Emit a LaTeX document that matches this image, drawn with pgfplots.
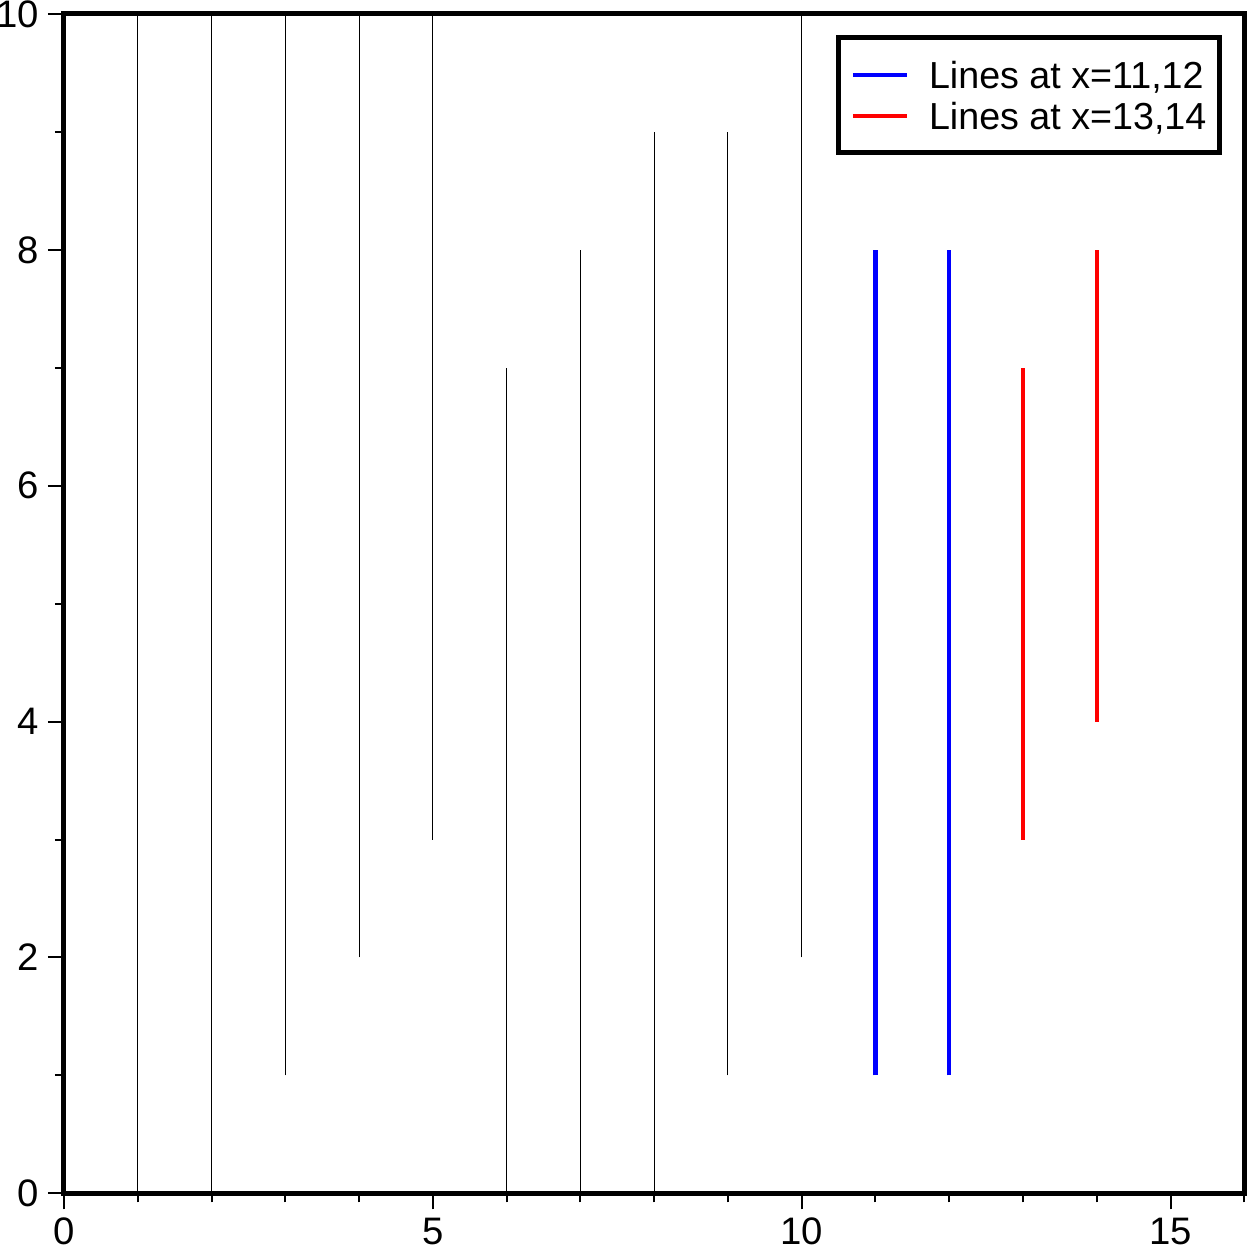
\documentclass[border=0pt]{standalone}
\usepackage{pgfplots}
\pgfplotsset{compat=1.18}
\usepackage{fontspec}
\setmainfont{Liberation Sans}
\begin{document}
\begin{tikzpicture}
\begin{axis}[
  scale only axis,
  width=354.3pt, height=354pt,
  xmin=0, xmax=16, ymin=0, ymax=10,
  xtick={0,5,10,15}, minor xtick={0,1,...,16},
  ytick={0,2,4,6,8,10}, minor ytick={1,3,5,7,9},
  xtick pos=bottom, ytick pos=left,
  tick align=outside,
  major tick length=4.8pt, minor tick length=2.7pt,
  tick style={line width=0.6pt, black},
  axis line style={line width=1.5pt},
  ticklabel style={font=\fontsize{11.5}{13}\selectfont},
  yticklabel style={inner xsep=0pt, xshift=-2.6pt},
  xticklabel style={inner ysep=0pt, text depth=0pt, yshift=-2.4pt},
  /pgf/number format/assume math mode=true,
  legend cell align=left,
  legend style={at={(axis description cs:0.9807,0.9818)}, anchor=north east,
    draw=black, line width=1.5pt, font=\fontsize{11.3}{12}\selectfont,
    inner xsep=3.8pt, inner ysep=4.95pt, row sep=0pt,
    nodes={inner xsep=0pt, inner ysep=0.65pt, text height=9.5pt, text depth=1.5pt},
    /tikz/every odd column/.style={column sep=6pt}},
  legend image code/.code={\draw[#1] (0pt,0pt) -- (16.2pt,0pt);},
]
\addplot[black, line width=0.3pt, forget plot] coordinates {(1,0) (1,10)};
\addplot[black, line width=0.3pt, forget plot] coordinates {(2,0) (2,10)};
\addplot[black, line width=0.3pt, forget plot] coordinates {(3,1) (3,10)};
\addplot[black, line width=0.3pt, forget plot] coordinates {(4,2) (4,10)};
\addplot[black, line width=0.3pt, forget plot] coordinates {(5,3) (5,10)};
\addplot[black, line width=0.3pt, forget plot] coordinates {(6,0) (6,7)};
\addplot[black, line width=0.3pt, forget plot] coordinates {(7,0) (7,8)};
\addplot[black, line width=0.3pt, forget plot] coordinates {(8,0) (8,9)};
\addplot[black, line width=0.3pt, forget plot] coordinates {(9,1) (9,9)};
\addplot[black, line width=0.3pt, forget plot] coordinates {(10,2) (10,10)};
\addplot[blue, line width=1.3pt] coordinates {(11,1) (11,8)};
\addlegendentry{Lines at x=11,12}
\addplot[blue, line width=1.3pt, forget plot] coordinates {(12,1) (12,8)};
\addplot[red, line width=1.3pt] coordinates {(13,3) (13,7)};
\addlegendentry{Lines at x=13,14}
\addplot[red, line width=1.3pt, forget plot] coordinates {(14,4) (14,8)};
\end{axis}
\pgfresetboundingbox
\path ([xshift=-19.2pt, yshift=-17pt]current axis.south west) rectangle ([xshift=1.5pt, yshift=4.2pt]current axis.north east);
\end{tikzpicture}
\end{document}
